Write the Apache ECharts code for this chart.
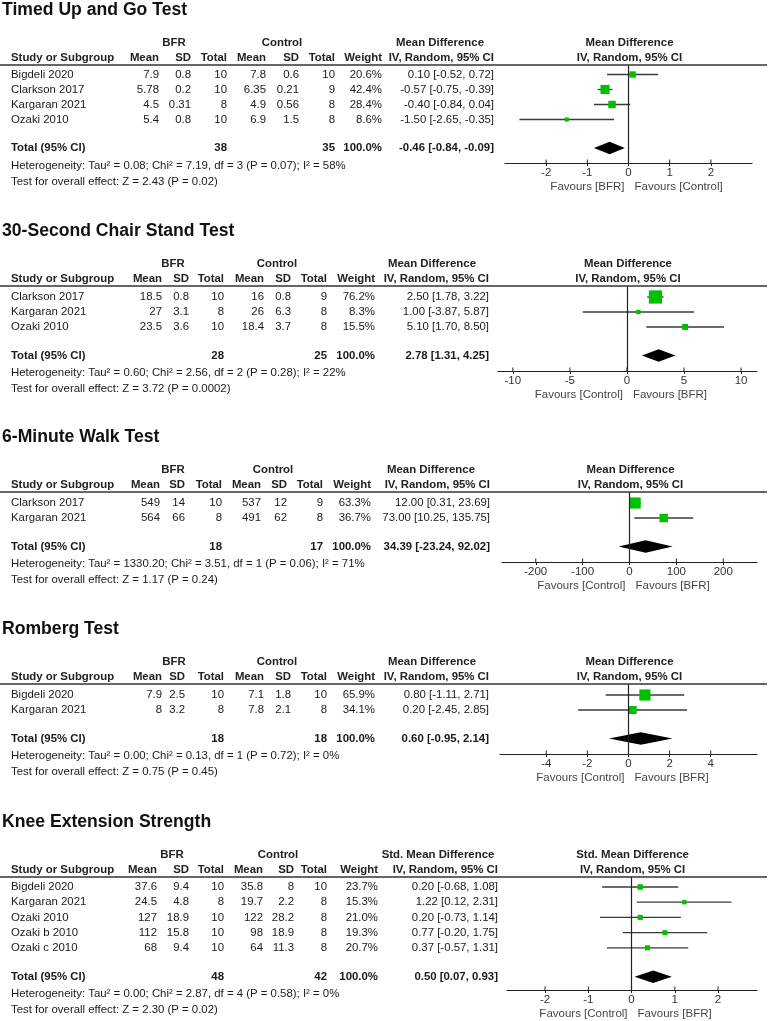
<!DOCTYPE html>
<html><head><meta charset="utf-8">
<script src="https://cdn.jsdelivr.net/npm/echarts@6.0.0/dist/echarts.min.js"></script>
<style>html,body{margin:0;padding:0;background:#fff}#c{width:768px;height:1021px}</style>
</head><body><div id="c"></div>
<script>
// ---------- DATA ----------
// Panel 1: Timed Up and Go Test
const tugTitle = 'Timed Up and Go Test';
const tugStudies = ['Bigdeli 2020', 'Clarkson 2017', 'Kargaran 2021', 'Ozaki 2010'];
const tugBfrMean = [7.9, 5.78, 4.5, 5.4];
const tugBfrSD = [0.8, 0.2, 0.31, 0.8];
const tugBfrN = [10, 10, 8, 10];
const tugCtlMean = [7.8, 6.35, 4.9, 6.9];
const tugCtlSD = [0.6, 0.21, 0.56, 1.5];
const tugCtlN = [10, 9, 8, 8];
const tugWeight = [20.6, 42.4, 28.4, 8.6];
const tugMD = [0.10, -0.57, -0.40, -1.50];
const tugLo = [-0.52, -0.75, -0.84, -2.65];
const tugHi = [0.72, -0.39, 0.04, -0.35];
const tugTotals = [38, 35];
const tugPooled = [-0.46, -0.84, -0.09];
const tugHet = 'Heterogeneity: Tau² = 0.08; Chi² = 7.19, df = 3 (P = 0.07); I² = 58%';
const tugTest = 'Test for overall effect: Z = 2.43 (P = 0.02)';
const tugTicks = [-2, -1, 0, 1, 2];
const tugFavours = ['Favours [BFR]', 'Favours [Control]'];

// Panel 2: 30-Second Chair Stand Test
const csTitle = '30-Second Chair Stand Test';
const csStudies = ['Clarkson 2017', 'Kargaran 2021', 'Ozaki 2010'];
const csBfrMean = [18.5, 27, 23.5];
const csBfrSD = [0.8, 3.1, 3.6];
const csBfrN = [10, 8, 10];
const csCtlMean = [16, 26, 18.4];
const csCtlSD = [0.8, 6.3, 3.7];
const csCtlN = [9, 8, 8];
const csWeight = [76.2, 8.3, 15.5];
const csMD = [2.50, 1.00, 5.10];
const csLo = [1.78, -3.87, 1.70];
const csHi = [3.22, 5.87, 8.50];
const csTotals = [28, 25];
const csPooled = [2.78, 1.31, 4.25];
const csHet = 'Heterogeneity: Tau² = 0.60; Chi² = 2.56, df = 2 (P = 0.28); I² = 22%';
const csTest = 'Test for overall effect: Z = 3.72 (P = 0.0002)';
const csTicks = [-10, -5, 0, 5, 10];
const csFavours = ['Favours [Control]', 'Favours [BFR]'];

// Panel 3: 6-Minute Walk Test
const mwTitle = '6-Minute Walk Test';
const mwStudies = ['Clarkson 2017', 'Kargaran 2021'];
const mwBfrMean = [549, 564];
const mwBfrSD = [14, 66];
const mwBfrN = [10, 8];
const mwCtlMean = [537, 491];
const mwCtlSD = [12, 62];
const mwCtlN = [9, 8];
const mwWeight = [63.3, 36.7];
const mwMD = [12.00, 73.00];
const mwLo = [0.31, 10.25];
const mwHi = [23.69, 135.75];
const mwTotals = [18, 17];
const mwPooled = [34.39, -23.24, 92.02];
const mwHet = 'Heterogeneity: Tau² = 1330.20; Chi² = 3.51, df = 1 (P = 0.06); I² = 71%';
const mwTest = 'Test for overall effect: Z = 1.17 (P = 0.24)';
const mwTicks = [-200, -100, 0, 100, 200];
const mwFavours = ['Favours [Control]', 'Favours [BFR]'];

// Panel 4: Romberg Test
const rbTitle = 'Romberg Test';
const rbStudies = ['Bigdeli 2020', 'Kargaran 2021'];
const rbBfrMean = [7.9, 8];
const rbBfrSD = [2.5, 3.2];
const rbBfrN = [10, 8];
const rbCtlMean = [7.1, 7.8];
const rbCtlSD = [1.8, 2.1];
const rbCtlN = [10, 8];
const rbWeight = [65.9, 34.1];
const rbMD = [0.80, 0.20];
const rbLo = [-1.11, -2.45];
const rbHi = [2.71, 2.85];
const rbTotals = [18, 18];
const rbPooled = [0.60, -0.95, 2.14];
const rbHet = 'Heterogeneity: Tau² = 0.00; Chi² = 0.13, df = 1 (P = 0.72); I² = 0%';
const rbTest = 'Test for overall effect: Z = 0.75 (P = 0.45)';
const rbTicks = [-4, -2, 0, 2, 4];
const rbFavours = ['Favours [Control]', 'Favours [BFR]'];

// Panel 5: Knee Extension Strength
const keTitle = 'Knee Extension Strength';
const keStudies = ['Bigdeli 2020', 'Kargaran 2021', 'Ozaki 2010', 'Ozaki b 2010', 'Ozaki c 2010'];
const keBfrMean = [37.6, 24.5, 127, 112, 68];
const keBfrSD = [9.4, 4.8, 18.9, 15.8, 9.4];
const keBfrN = [10, 8, 10, 10, 10];
const keCtlMean = [35.8, 19.7, 122, 98, 64];
const keCtlSD = [8, 2.2, 28.2, 18.9, 11.3];
const keCtlN = [10, 8, 8, 8, 8];
const keWeight = [23.7, 15.3, 21.0, 19.3, 20.7];
const keMD = [0.20, 1.22, 0.20, 0.77, 0.37];
const keLo = [-0.68, 0.12, -0.73, -0.20, -0.57];
const keHi = [1.08, 2.31, 1.14, 1.75, 1.31];
const keTotals = [48, 42];
const kePooled = [0.50, 0.07, 0.93];
const keHet = 'Heterogeneity: Tau² = 0.00; Chi² = 2.87, df = 4 (P = 0.58); I² = 0%';
const keTest = 'Test for overall effect: Z = 2.30 (P = 0.02)';
const keTicks = [-2, -1, 0, 1, 2];
const keFavours = ['Favours [Control]', 'Favours [BFR]'];

// ---------- ASSEMBLY ----------
const panels = [
  {title: tugTitle, measure: 'Mean Difference', studies: tugStudies, bm: tugBfrMean, bs: tugBfrSD, bn: tugBfrN, cm: tugCtlMean, cs: tugCtlSD, cn: tugCtlN, w: tugWeight, md: tugMD, lo: tugLo, hi: tugHi, tot: tugTotals, pooled: tugPooled, het: tugHet, test: tugTest, ticks: tugTicks, fav: tugFavours},
  {title: csTitle, measure: 'Mean Difference', studies: csStudies, bm: csBfrMean, bs: csBfrSD, bn: csBfrN, cm: csCtlMean, cs: csCtlSD, cn: csCtlN, w: csWeight, md: csMD, lo: csLo, hi: csHi, tot: csTotals, pooled: csPooled, het: csHet, test: csTest, ticks: csTicks, fav: csFavours},
  {title: mwTitle, measure: 'Mean Difference', studies: mwStudies, bm: mwBfrMean, bs: mwBfrSD, bn: mwBfrN, cm: mwCtlMean, cs: mwCtlSD, cn: mwCtlN, w: mwWeight, md: mwMD, lo: mwLo, hi: mwHi, tot: mwTotals, pooled: mwPooled, het: mwHet, test: mwTest, ticks: mwTicks, fav: mwFavours},
  {title: rbTitle, measure: 'Mean Difference', studies: rbStudies, bm: rbBfrMean, bs: rbBfrSD, bn: rbBfrN, cm: rbCtlMean, cs: rbCtlSD, cn: rbCtlN, w: rbWeight, md: rbMD, lo: rbLo, hi: rbHi, tot: rbTotals, pooled: rbPooled, het: rbHet, test: rbTest, ticks: rbTicks, fav: rbFavours},
  {title: keTitle, measure: 'Std. Mean Difference', studies: keStudies, bm: keBfrMean, bs: keBfrSD, bn: keBfrN, cm: keCtlMean, cs: keCtlSD, cn: keCtlN, w: keWeight, md: keMD, lo: keLo, hi: keHi, tot: keTotals, pooled: kePooled, het: keHet, test: keTest, ticks: keTicks, fav: keFavours}
];

// ---------- LAYOUT ----------
const layouts = [
  {sep: 65, axis: 163, row0: 74.5, rowH: 15, axL: 505, axR: 752, min: -3.0, max: 3.0, sq: 1.4, cols: [159, 191, 227, 266, 299, 335, 382, 494], bfrX: 174, ctlX: 282, mdX: 440},
  {sep: 286, axis: 371, row0: 297, rowH: 15, axL: 498, axR: 757, min: -11.3, max: 11.4, sq: 1.52, cols: [162, 189, 224, 264, 291, 327, 375, 489], bfrX: 173, ctlX: 277, mdX: 432},
  {sep: 492, axis: 562, row0: 503, rowH: 15, axL: 502, axR: 757, min: -272, max: 272, sq: 1.4, cols: [160, 185, 222, 261, 287, 323, 371, 490], bfrX: 173, ctlX: 273, mdX: 431},
  {sep: 684, axis: 754, row0: 695, rowH: 15, axL: 500, axR: 757, min: -6.25, max: 6.25, sq: 1.38, cols: [162, 185, 224, 264, 291, 327, 375, 489], bfrX: 174, ctlX: 277, mdX: 432},
  {sep: 877, axis: 990, row0: 887, rowH: 15.2, axL: 507, axR: 757, min: -2.88, max: 2.9, sq: 1.12, cols: [157, 189, 224, 263, 294, 327, 378, 498], bfrX: 172, ctlX: 278, mdX: 438}
];

const FN = '"Liberation Sans", Arial, Helvetica, sans-serif';
const GREEN = '#00C000';

function T(x, y, text, o) {
  o = o || {};
  return {type: 'text', x: x, y: y, silent: true, z: 10,
    style: {text: String(text), font: (o.bold ? 'bold ' : '') + (o.size || 11.4) + 'px ' + FN,
      fill: o.fill || '#1a1a1a', align: o.align || 'left', verticalAlign: 'middle'}};
}

const grids = [], xAxes = [], yAxes = [], series = [];
panels.forEach((p, i) => {
  const L = layouts[i];
  const off = (L.row0 - L.sep) / L.rowH;
  const yMax = -off + (L.axis - L.sep) / L.rowH;
  const n = p.studies.length;
  grids.push({left: L.axL, width: L.axR - L.axL, top: L.sep, height: L.axis - L.sep});
  xAxes.push({gridIndex: i, type: 'value', min: L.min, max: L.max, position: 'bottom',
    axisLine: {show: true, onZero: false, lineStyle: {color: '#222', width: 1.2}},
    axisTick: {show: true, customValues: p.ticks, length: 3, lineStyle: {color: '#222', width: 1}},
    axisLabel: {show: true, customValues: p.ticks, fontSize: 11.5, color: '#333', margin: 4, fontFamily: FN},
    splitLine: {show: false}});
  yAxes.push({gridIndex: i, type: 'value', inverse: true, show: false, min: -off, max: yMax});

  // upper half of the tick marks (ticks cross the axis line)
  series.push({type: 'custom', xAxisIndex: i, yAxisIndex: i, z: 4, silent: true, clip: false,
    data: p.ticks.map(t => [t, yMax]),
    renderItem: (params, api) => {
      const a = api.coord([api.value(0), api.value(1)]);
      return {type: 'line', shape: {x1: a[0], y1: a[1], x2: a[0], y2: a[1] - 3.5}, style: {stroke: '#222', lineWidth: 1}};
    }});
  series.push({type: 'custom', xAxisIndex: i, yAxisIndex: i, z: 2, silent: true,
    data: p.studies.map((s, j) => [p.lo[j], p.hi[j], j]),
    encode: {x: [0, 1], y: 2},
    renderItem: (params, api) => {
      const a = api.coord([api.value(0), api.value(2)]);
      const b = api.coord([api.value(1), api.value(2)]);
      return {type: 'line', shape: {x1: a[0], y1: a[1], x2: b[0], y2: b[1]}, style: {stroke: '#3a3a3a', lineWidth: 1.3}};
    }});
  const k = L.sq;
  series.push({type: 'scatter', xAxisIndex: i, yAxisIndex: i, z: 3, silent: true,
    symbol: 'rect', symbolSize: v => k * Math.sqrt(v[2]),
    itemStyle: {color: GREEN, opacity: 1},
    data: p.studies.map((s, j) => [p.md[j], j, p.w[j]]),
    markLine: {silent: true, symbol: ['none', 'none'], label: {show: false}, animation: false,
      lineStyle: {color: '#222', type: 'solid', width: 1.2}, data: [{xAxis: 0}]}});
  series.push({type: 'custom', xAxisIndex: i, yAxisIndex: i, z: 3, silent: true,
    data: [[p.pooled[1], p.pooled[0], p.pooled[2], n + 0.9]],
    encode: {x: [0, 1, 2], y: 3},
    renderItem: (params, api) => {
      const y = api.value(3);
      const l = api.coord([api.value(0), y]);
      const e = api.coord([api.value(1), y]);
      const r = api.coord([api.value(2), y]);
      const h = 6.2;
      return {type: 'polygon', shape: {points: [[l[0], l[1]], [e[0], e[1] - h], [r[0], r[1]], [e[0], e[1] + h]]}, style: {fill: '#000'}};
    }});
});

const chart = echarts.init(document.getElementById('c'), null, {renderer: 'canvas'});
chart.setOption({animation: false, backgroundColor: '#fff', grid: grids, xAxis: xAxes, yAxis: yAxes, series: series});

// ---------- TABLE TEXT ----------
const g = [];
panels.forEach((p, i) => {
  const L = layouts[i];
  const off = (L.row0 - L.sep) / L.rowH;
  const rowY = r => L.sep + (r + off) * L.rowH;
  const c = L.cols;
  const zeroX = chart.convertToPixel({xAxisIndex: i}, 0);
  g.push(T(2, L.sep - 55, p.title, {bold: true, size: 17.6, fill: '#111'}));
  const h1 = L.sep - 22, h2 = L.sep - 7;
  g.push(T(L.bfrX, h1, 'BFR', {bold: true, align: 'center', fill: '#222'}));
  g.push(T(L.ctlX, h1, 'Control', {bold: true, align: 'center', fill: '#222'}));
  g.push(T(L.mdX, h1, p.measure, {bold: true, align: 'center', fill: '#222'}));
  g.push(T(11, h2, 'Study or Subgroup', {bold: true, fill: '#222'}));
  ['Mean', 'SD', 'Total', 'Mean', 'SD', 'Total', 'Weight', 'IV, Random, 95% CI'].forEach((h, kk) => {
    g.push(T(c[kk], h2, h, {bold: true, align: 'right', fill: '#222'}));
  });
  g.push(T(zeroX + 1, h1, p.measure, {bold: true, align: 'center', fill: '#222'}));
  g.push(T(zeroX + 1, h2, 'IV, Random, 95% CI', {bold: true, align: 'center', fill: '#222'}));
  g.push({type: 'line', silent: true, z: 10, shape: {x1: 0, y1: L.sep, x2: 767, y2: L.sep}, style: {stroke: '#333', lineWidth: 1.5}});
  p.studies.forEach((s, j) => {
    const y = rowY(j);
    g.push(T(11, y, s));
    [p.bm[j], p.bs[j], p.bn[j], p.cm[j], p.cs[j], p.cn[j]].forEach((v, kk) => g.push(T(c[kk], y, v, {align: 'right'})));
    g.push(T(c[6], y, p.w[j].toFixed(1) + '%', {align: 'right'}));
    g.push(T(c[7], y, p.md[j].toFixed(2) + ' [' + p.lo[j].toFixed(2) + ', ' + p.hi[j].toFixed(2) + ']', {align: 'right'}));
  });
  const ty = rowY(p.studies.length + 0.9);
  g.push(T(11, ty, 'Total (95% CI)', {bold: true}));
  g.push(T(c[2], ty, p.tot[0], {bold: true, align: 'right'}));
  g.push(T(c[5], ty, p.tot[1], {bold: true, align: 'right'}));
  g.push(T(c[6], ty, '100.0%', {bold: true, align: 'right'}));
  g.push(T(c[7], ty, p.pooled[0].toFixed(2) + ' [' + p.pooled[1].toFixed(2) + ', ' + p.pooled[2].toFixed(2) + ']', {bold: true, align: 'right'}));
  g.push(T(11, ty + 17.5, p.het));
  g.push(T(11, ty + 33.5, p.test));
  g.push(T(zeroX - 4, L.axis + 24, p.fav[0], {align: 'right', size: 11.5, fill: '#4a4444'}));
  g.push(T(zeroX + 6, L.axis + 24, p.fav[1], {align: 'left', size: 11.5, fill: '#4a4444'}));
});
chart.setOption({graphic: g});
</script>
</body></html>
